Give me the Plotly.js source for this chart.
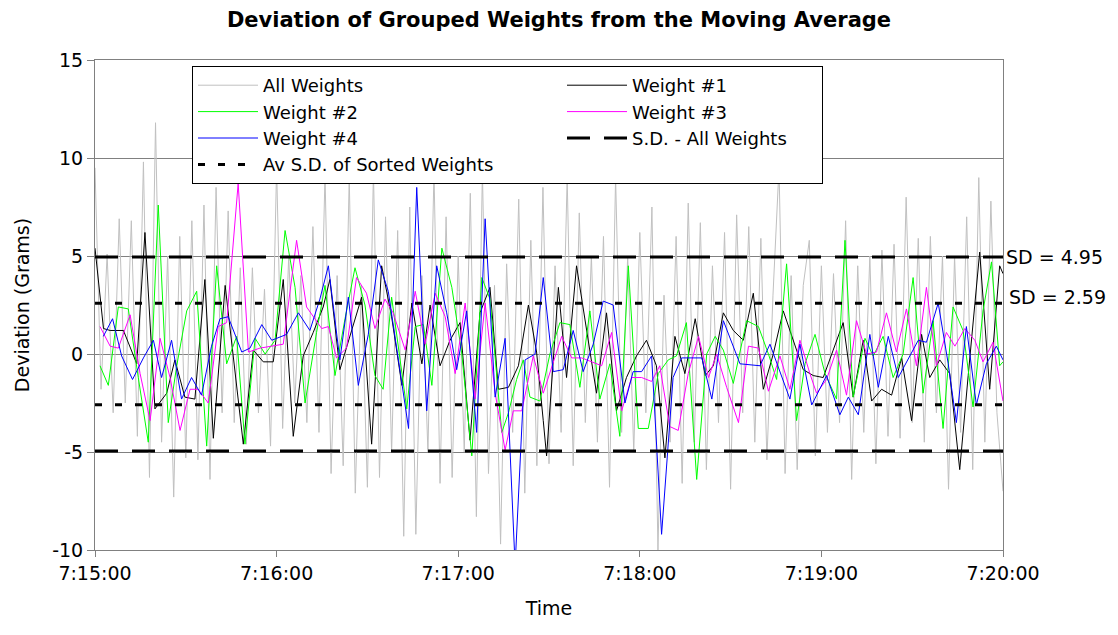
<!DOCTYPE html>
<html><head><meta charset="utf-8">
<script src="https://cdn.plot.ly/plotly-3.0.1.min.js"></script>
<style>html,body{margin:0;padding:0;background:#fff}#chart{width:1118px;height:635px}</style>
</head><body><div id="chart"></div>
<script>
// ---- data (seconds after 7:15:00, deviation in grams) ----
const endSeconds = 300;
const graySeconds = [];            // All Weights are logged every 2 s
for (let s = 0; s <= endSeconds; s += 2) graySeconds.push(s);
const allWeights = [
9.5,-1.8,5.1,-3.0,6.9,-2.5,6.8,-4.2,9.8,-6.3,
11.8,-4.5,5.0,-7.3,6.0,-5.3,6.8,-5.4,7.6,-6.4,
8.5,-3.0,7.3,-3.5,4.4,-4.6,4.4,-3.0,3.3,-4.7,
9.5,-3.8,5.0,-2.5,4.0,-3.5,6.5,-4.0,9.2,-6.1,
4.0,-5.7,9.0,-7.1,3.5,-6.8,9.3,-6.3,7.0,-5.0,
6.3,-9.3,7.5,-9.2,4.0,-5.0,9.3,-6.6,7.0,-6.3,
5.0,-5.0,8.2,-8.3,9.3,-6.1,3.5,-9.7,4.6,-4.0,
7.9,-7.1,5.8,-5.7,8.5,-5.6,4.5,-4.0,9.0,-5.7,
7.2,-3.5,5.0,-4.5,6.0,-6.8,9.0,-4.0,5.0,-5.0,
6.2,-3.0,7.5,-10.0,3.0,-4.5,6.0,-6.6,7.7,-4.5,
6.7,-5.9,4.5,-3.5,6.2,-6.9,7.1,-3.0,6.5,-4.5,
5.9,-5.4,3.0,9.5,-6.1,4.0,-5.9,3.5,5.8,-5.2,
4.5,-4.0,4.1,-3.5,6.8,-6.4,4.5,-4.0,5.0,-5.6,
5.3,-4.2,5.6,-4.3,8.0,-3.5,5.9,-4.5,6.0,-3.0,
5.0,-6.9,5.0,-4.0,7.0,-5.9,9.0,-4.5,7.8,-3.0,
-7.0];

const w1Seconds = [0,2.8,5.0,9.4,13.8,16.5,19.8,23.7,26.4,29.7,33.0,36.3,39.1,43.0,49.0,
52.3,55.6,58.9,62.2,65.5,68.8,72.1,75.4,77.6,80.9,84.8,88.1,91.4,94.7,98.0,
101.4,104.7,108.0,110.7,114.0,117.3,120.6,123.9,127.2,130.5,133.3,136.6,139.9,143.2,145.9,148.1,
149.2,153.1,155.8,159.1,163.0,165.7,169.0,172.3,175.6,178.9,182.2,185.5,188.3,191.6,194.9,
198.3,201.6,204.3,207.6,210.9,214.2,217.5,220.8,224.1,227.4,230.7,234.0,237.3,240.6,243.9,247.2,
250.5,253.8,256.6,259.9,263.2,266.5,269.8,273.1,275.8,279.1,282.4,285.7,288.5,292.3,295.6,298.9,300];
const weight1 = [5.4,1.3,1.2,1.2,-0.5,6.2,-2.8,-2.0,-0.3,-2.2,-2.3,3.8,-4.3,3.5,-4.6,
0.2,-0.4,-0.4,3.8,-4.2,-0.1,1.1,2.4,3.8,-0.8,1.2,2.9,-4.6,4.5,1.9,
-1.6,2.6,-0.5,2.5,-0.6,0.7,1.6,-4.4,2.1,3.4,-1.8,-1.7,-0.6,2.5,0.1,-3.4,
-5.2,3.4,-1.2,4.5,0.7,-2.0,2.1,-2.9,-1.2,-0.1,0.7,-0.6,-5.3,0.9,-1.0,
1.8,-1.1,-0.6,2.1,1.2,0.7,3.1,-1.8,0.0,2.2,0.7,-0.8,-1.1,-1.2,0.2,1.6,
-2.2,0.7,-2.4,-1.8,-2.1,-0.2,-3.4,1.0,-1.2,-0.3,-1.0,-5.9,-1.1,5.2,-1.8,4.5,4.1];

const w2Seconds = [1.65,4.4,7.7,11.0,14.3,17.6,20.9,24.2,27.0,30.3,33.6,36.9,40.2,43.5,46.8,49.55,
52.9,56.2,59.5,62.8,66.1,69.4,73.2,76.0,79.3,82.6,85.9,89.2,92.5,95.2,98.0,
103.0,105.8,108.5,111.3,114.6,117.9,121.2,124.5,127.8,130.5,134.4,136.6,139.3,141.5,143.7,147.0,
150.3,153.6,156.9,160.2,163.5,166.8,170.1,173.4,176.2,179.5,182.8,186.1,189.4,192.1,195.4,
198.8,202.1,204.9,207.6,210.9,215.3,219.2,222.5,225.2,228.5,231.8,234.6,237.9,241.2,245.0,247.8,
250.5,254.4,257.1,260.4,263.7,267.0,270.3,273.6,276.9,280.2,283.5,286.8,290.1,293.4,296.2,298.9,300];
const weight2 = [-0.6,-1.6,2.4,2.3,-1.2,-4.5,7.6,-3.5,-0.6,2.2,3.2,-4.7,4.5,-0.5,0.9,-4.6,
0.8,0.0,0.7,6.3,3.4,-2.5,1.1,3.5,-1.1,1.8,4.4,2.5,-1.1,-1.8,2.9,
-2.8,1.4,1.5,-1.6,5.4,3.4,0.0,-5.2,3.9,2.8,-4.0,-3.0,-1.3,-0.3,-2.2,-2.4,
0.0,1.6,1.5,-1.7,2.2,-2.3,-0.5,-4.2,4.5,-3.8,-3.8,-1.0,-0.3,-0.1,1.6,
-6.4,0.0,0.9,0.2,-1.5,1.7,1.4,0.0,-1.3,4.6,-3.4,-0.5,1.0,-1.0,-2.3,5.8,
-2.2,0.8,-0.1,0.9,-1.2,0.0,3.9,-2.0,1.7,-3.8,2.4,1.2,-2.7,2.2,4.7,-0.6,-0.4];

const w3Seconds = [1.65,5.0,7.7,11.6,14.9,18.2,21.5,24.8,28.1,31.4,34.1,37.4,40.7,43.5,47.3,
50.7,54.5,58.4,62.2,66.6,69.9,74.9,77.1,79.8,83.1,86.4,89.7,92.5,95.8,98.5,
102.5,105.8,109.1,112.4,115.7,119.0,122.3,125.6,128.9,132.2,135.5,138.2,141.0,144.8,148.1,
154.2,157.5,160.8,164.1,167.4,170.7,174.0,177.3,180.6,183.9,186.6,189.9,192.7,196.0,
199.4,202.7,205.4,208.7,212.6,215.9,219.2,222.5,226.3,229.6,232.9,236.2,238.4,241.7,245.0,
248.3,251.6,254.9,258.2,261.5,264.8,268.1,271.4,274.7,278.0,281.3,284.1,287.4,290.7,293.4,296.7,300];
const weight3 = [1.4,0.4,0.3,2.0,-1.0,-3.4,0.8,-1.2,-3.9,-1.8,-1.8,-2.5,1.4,1.6,8.7,
0.1,0.3,0.4,0.5,5.8,2.4,1.3,1.4,-0.2,0.3,3.9,3.1,1.3,2.8,2.1,
0.2,3.2,0.5,3.1,1.9,-1.0,2.6,-2.3,2.6,-2.0,-4.9,-2.9,-2.9,-0.1,-2.0,
0.9,-0.2,-0.2,-0.4,-0.6,1.1,-2.9,-1.2,-1.2,-1.4,-0.6,-3.7,-3.9,-1.0,
0.9,-1.2,0.0,-1.7,-3.5,0.4,0.3,-1.9,-0.1,-1.8,0.7,-1.0,-2.0,-1.3,0.2,
-2.1,1.7,0.0,0.1,2.1,0.1,2.3,-0.6,3.4,-0.6,1.1,0.4,1.3,0.7,-0.4,0.6,-2.4];

const w4Seconds = [2.75,5.8,8.8,12.4,16.0,19.3,22.0,25.3,28.6,31.9,35.2,38.5,41.3,44.0,48.5,
51.2,55.1,58.4,63.3,67.2,71.0,74.3,77.1,80.9,83.7,87.0,90.3,93.6,96.9,
103.6,106.3,109.6,112.9,116.2,119.5,122.8,126.1,128.9,132.2,135.5,138.8,142.1,145.4,148.1,
151.4,154.7,158.0,161.3,164.6,167.9,171.2,175.1,177.8,180.6,183.9,187.2,191.0,193.8,197.6,
200.5,203.8,207.6,213.1,219.7,223.0,229.6,232.9,236.8,241.7,246.1,
248.9,252.2,256.0,258.8,262.1,265.4,272.0,274.7,278.6,281.9,284.6,287.9,291.2,294.5,297.8,300];
const weight4 = [0.9,1.8,-0.1,-1.3,-0.2,0.7,-1.2,0.7,-2.3,-1.2,-2.1,0.4,1.8,1.9,0.1,
0.3,1.5,0.7,1.0,2.1,1.2,2.8,4.5,-0.3,2.9,-1.6,1.0,4.8,3.2,
-3.8,8.5,-2.9,4.5,2.1,-0.8,2.2,-4.0,6.9,-2.2,0.8,-10.8,-0.3,0.0,3.9,
-0.9,-0.8,1.2,-0.9,0.5,2.7,2.5,-2.5,-0.9,-0.9,-0.1,-9.2,-1.2,-0.2,-0.2,
-0.2,-2.3,1.7,-0.5,-0.6,0.5,-2.3,0.5,-2.6,-1.1,-3.1,
-2.2,-3.1,1.0,-1.7,0.9,-1.2,0.7,0.6,2.6,-0.5,-3.5,1.4,-2.6,-0.5,0.4,-0.3];

const sdAll = 4.95;
const sdSorted = 2.59;
const seriesNames = ["All Weights","Weight #1","Weight #2","Weight #3","Weight #4","S.D. - All Weights","Av S.D. of Sorted Weights"];
const yTickValues = [-10,-5,0,5,10,15];
const yTickLabels = ["-10","-5","0","5","10","15"];

// ---- helpers ----
const base = Date.UTC(2000,0,1,7,15,0);
const toX = arr => arr.map(s => base + s*1000);
const FONT = '"DejaVu Sans", "Liberation Sans", Arial, sans-serif';
const spanX = toX([0, endSeconds]);

function lineTrace(name, xs, ys, color, extra){
  return Object.assign({type:'scatter', mode:'lines', name:name, x:toX(xs), y:ys,
    line:{color:color, width:1}, hoverinfo:'skip'}, extra||{});
}
const COL1 = 294, COL2 = 185;
const traces = [
  lineTrace(seriesNames[0], graySeconds, allWeights, '#C0C0C0', {legendwidth:COL1}),
  lineTrace(seriesNames[1], w1Seconds, weight1, '#000000', {legendwidth:COL2}),
  lineTrace(seriesNames[2], w2Seconds, weight2, '#00FF00', {legendwidth:COL1}),
  lineTrace(seriesNames[3], w3Seconds, weight3, '#FF00FF', {legendwidth:COL2}),
  lineTrace(seriesNames[4], w4Seconds, weight4, '#0000FF', {legendwidth:COL1}),
  {type:'scatter', mode:'lines', name:seriesNames[5], legendgroup:'sd', legendwidth:COL2, x:spanX, y:[sdAll, sdAll],
    line:{color:'#000', width:3, dash:'23px,14px'}, hoverinfo:'skip'},
  {type:'scatter', mode:'lines', name:seriesNames[5], legendgroup:'sd', showlegend:false, x:spanX, y:[-sdAll, -sdAll],
    line:{color:'#000', width:3, dash:'23px,14px'}, hoverinfo:'skip'},
  {type:'scatter', mode:'lines', name:seriesNames[6], legendgroup:'av', legendwidth:COL1, x:spanX, y:[sdSorted, sdSorted],
    line:{color:'#000', width:3, dash:'7px,13px'}, hoverinfo:'skip'},
  {type:'scatter', mode:'lines', name:seriesNames[6], legendgroup:'av', showlegend:false, x:spanX, y:[-sdSorted, -sdSorted],
    line:{color:'#000', width:3, dash:'7px,13px'}, hoverinfo:'skip'}
];

const layout = {
  width:1118, height:635,
  margin:{l:95, r:115, t:60, b:85},
  paper_bgcolor:'#fff', plot_bgcolor:'#fff',
  font:{family:FONT, size:20, color:'#000'},
  title:{text:'Deviation of Grouped Weights from the Moving Average',
    font:{family:FONT, size:21, weight:'bold', color:'#000'},
    x:0.5, xref:'container', y:1-20/635, yref:'container', yanchor:'middle'},
  xaxis:{type:'date', range:spanX, tick0:spanX[0], dtick:60000, tickformat:'%-H:%M:%S',
    showgrid:false, zeroline:false, showline:true, mirror:true, linecolor:'#808080', linewidth:1,
    ticks:'outside', ticklen:6, tickcolor:'#808080', tickfont:{size:19},
    title:{text:'Time', font:{size:19}, standoff:18}},
  yaxis:{range:[-10,15], tickmode:'array', tickvals:yTickValues, ticktext:yTickLabels,
    showgrid:true, gridcolor:'#808080', gridwidth:1,
    zeroline:true, zerolinecolor:'#808080', zerolinewidth:1,
    showline:true, mirror:true, linecolor:'#808080', linewidth:1,
    ticks:'outside', ticklen:7, tickcolor:'#808080', tickfont:{size:19},
    title:{text:'Deviation (Grams)', font:{size:19}, standoff:17}},
  showlegend:true,
  legend:{x:(192-95)/908, y:(550-66)/490, xanchor:'left', yanchor:'top', orientation:'h',
    itemwidth:60, bgcolor:'#fff', bordercolor:'#000', borderwidth:1, font:{size:18}, traceorder:'normal'},
  annotations:[
    {xref:'paper', x:1, xanchor:'left', xshift:1, yref:'y', y:sdAll, yanchor:'middle',
     text:'SD = '+sdAll.toFixed(2), showarrow:false, font:{size:19}},
    {xref:'paper', x:1, xanchor:'left', xshift:4, yref:'y', y:sdSorted, yanchor:'middle', yshift:6,
     text:'SD = '+sdSorted.toFixed(2), showarrow:false, font:{size:19}}
  ]
};
Plotly.newPlot('chart', traces, layout, {displayModeBar:false, staticPlot:true});
</script></body></html>
